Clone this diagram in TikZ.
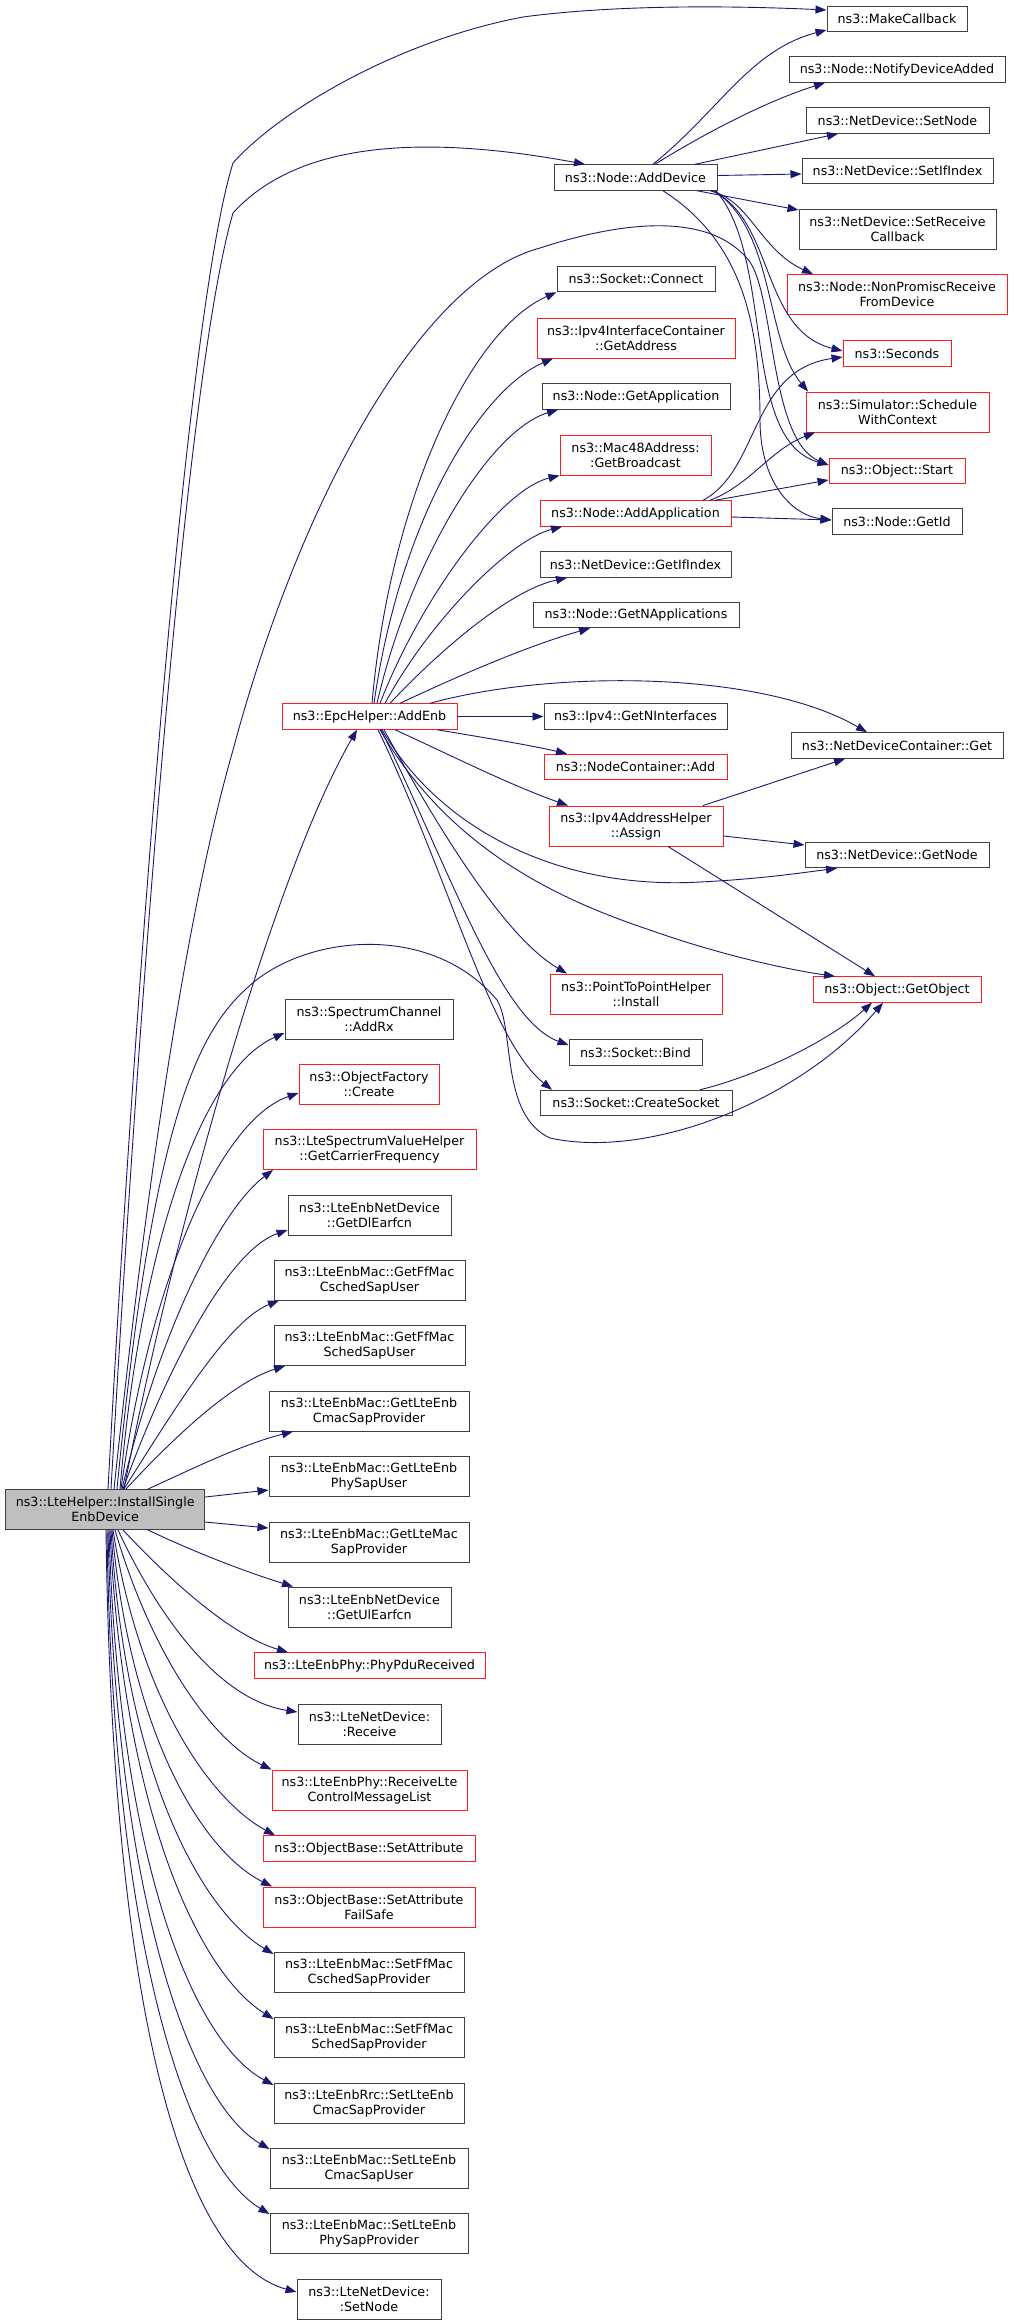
\documentclass[tikz,border=0pt]{standalone}
\usepackage{fontspec}
\setmainfont{DejaVu Sans}
\usetikzlibrary{arrows.meta}
\definecolor{mblue}{RGB}{25,25,112}
\definecolor{dgrey}{RGB}{64,64,64}
\definecolor{lgrey}{RGB}{191,191,191}
\definecolor{bred}{RGB}{255,30,30}
\begin{document}
\begin{tikzpicture}[x=1pt,y=-1pt,
  gbox/.style={draw=dgrey,line width=1pt,inner sep=0pt,align=center,
    font=\fontsize{12.7}{15}\selectfont,minimum height=25.5pt},
  rbox/.style={gbox,draw=bred,line width=0.9pt},
  tall/.style={minimum height=40pt},
  call/.style={draw=mblue,line width=0.9pt,-{Triangle[length=11pt,width=8pt]}}]
\fill[white] (0,0) rectangle (1013,2324);
\useasboundingbox (0,0) rectangle (1013,2324);
% ---------- nodes ----------
\node[gbox,tall,fill=lgrey,minimum width=199pt] (ise) at (105.2,1509.5) {ns3::LteHelper::InstallSingle\\EnbDevice};
\node[gbox,minimum width=140pt] (mk) at (897,19) {ns3::MakeCallback};
\node[gbox,minimum width=163pt] (ad) at (635.5,177.5) {ns3::Node::AddDevice};
\node[gbox,minimum width=216pt] (nda) at (897,69.5) {ns3::Node::NotifyDeviceAdded};
\node[gbox,minimum width=183pt] (sn) at (897.5,120.5) {ns3::NetDevice::SetNode};
\node[gbox,minimum width=191pt] (sif) at (897.5,171) {ns3::NetDevice::SetIfIndex};
\node[gbox,tall,minimum width=197pt] (src) at (897.5,229) {ns3::NetDevice::SetReceive\\Callback};
\node[rbox,tall,minimum width=220pt] (npr) at (897,294.5) {ns3::Node::NonPromiscReceive\\FromDevice};
\node[gbox,minimum width=158pt] (con) at (636,279) {ns3::Socket::Connect};
\node[rbox,tall,minimum width=198pt] (ga) at (636,338) {ns3::Ipv4InterfaceContainer\\::GetAddress};
\node[gbox,minimum width=188pt] (gapp) at (636,396.5) {ns3::Node::GetApplication};
\node[rbox,tall,minimum width=151pt] (gb) at (635.5,455) {ns3::Mac48Address:\\:GetBroadcast};
\node[rbox,minimum width=191pt] (aa) at (635.5,513.5) {ns3::Node::AddApplication};
\node[gbox,minimum width=191pt] (gii) at (635.5,564.5) {ns3::NetDevice::GetIfIndex};
\node[gbox,minimum width=206pt] (gna) at (636,615) {ns3::Node::GetNApplications};
\node[rbox,minimum width=108pt] (sec) at (897,353.5) {ns3::Seconds};
\node[rbox,tall,minimum width=183pt] (swc) at (897.5,412) {ns3::Simulator::Schedule\\WithContext};
\node[rbox,minimum width=136pt] (ost) at (897,471) {ns3::Object::Start};
\node[gbox,minimum width=130pt] (gid) at (897,521.5) {ns3::Node::GetId};
\node[rbox,minimum width=175pt] (epc) at (369.5,716.5) {ns3::EpcHelper::AddEnb};
\node[gbox,minimum width=183pt] (gni) at (635.5,716.5) {ns3::Ipv4::GetNInterfaces};
\node[rbox,minimum width=183pt] (nca) at (635.5,767) {ns3::NodeContainer::Add};
\node[rbox,tall,minimum width=174pt] (asg) at (636,826) {ns3::Ipv4AddressHelper\\::Assign};
\node[gbox,minimum width=212pt] (ndcg) at (897,745.5) {ns3::NetDeviceContainer::Get};
\node[gbox,minimum width=184pt] (gn) at (897,855) {ns3::NetDevice::GetNode};
\node[rbox,tall,minimum width=172pt] (p2p) at (636,994) {ns3::PointToPointHelper\\::Install};
\node[gbox,minimum width=133pt] (bind) at (635.5,1052.5) {ns3::Socket::Bind};
\node[gbox,minimum width=192pt] (cs) at (636,1103) {ns3::Socket::CreateSocket};
\node[rbox,minimum width=168pt] (go) at (897,989.5) {ns3::Object::GetObject};
\node[gbox,tall,minimum width=168pt] (scar) at (369,1019) {ns3::SpectrumChannel\\::AddRx};
\node[rbox,tall,minimum width=140pt] (ofc) at (369,1084) {ns3::ObjectFactory\\::Create};
\node[rbox,tall,minimum width=213pt] (lsv) at (369.5,1149.5) {ns3::LteSpectrumValueHelper\\::GetCarrierFrequency};
\node[gbox,tall,minimum width=163pt] (dle) at (369.5,1215) {ns3::LteEnbNetDevice\\::GetDlEarfcn};
\node[gbox,tall,minimum width=191pt] (gcsu) at (369.5,1280) {ns3::LteEnbMac::GetFfMac\\CschedSapUser};
\node[gbox,tall,minimum width=191pt] (gssu) at (369.5,1345.5) {ns3::LteEnbMac::GetFfMac\\SchedSapUser};
\node[gbox,tall,minimum width=200pt] (gcsp) at (369,1411) {ns3::LteEnbMac::GetLteEnb\\CmacSapProvider};
\node[gbox,tall,minimum width=200pt] (gpsu) at (369,1476) {ns3::LteEnbMac::GetLteEnb\\PhySapUser};
\node[gbox,tall,minimum width=200pt] (gmsp) at (369,1542) {ns3::LteEnbMac::GetLteMac\\SapProvider};
\node[gbox,tall,minimum width=163pt] (ule) at (369.5,1607) {ns3::LteEnbNetDevice\\::GetUlEarfcn};
\node[rbox,minimum width=231pt] (ppr) at (369.5,1665.5) {ns3::LteEnbPhy::PhyPduReceived};
\node[gbox,tall,minimum width=143pt] (rcv) at (369.5,1724) {ns3::LteNetDevice:\\:Receive};
\node[rbox,tall,minimum width=195pt] (rlc) at (369.5,1790) {ns3::LteEnbPhy::ReceiveLte\\ControlMessageList};
\node[rbox,minimum width=212pt] (sa) at (369,1848.5) {ns3::ObjectBase::SetAttribute};
\node[rbox,tall,minimum width=212pt] (saf) at (369,1907) {ns3::ObjectBase::SetAttribute\\FailSafe};
\node[gbox,tall,minimum width=190pt] (scsp) at (369,1972) {ns3::LteEnbMac::SetFfMac\\CschedSapProvider};
\node[gbox,tall,minimum width=190pt] (sssp) at (369,2037) {ns3::LteEnbMac::SetFfMac\\SchedSapProvider};
\node[gbox,tall,minimum width=190pt] (rrc) at (369,2103) {ns3::LteEnbRrc::SetLteEnb\\CmacSapProvider};
\node[gbox,tall,minimum width=198pt] (scsu) at (369,2168) {ns3::LteEnbMac::SetLteEnb\\CmacSapUser};
\node[gbox,tall,minimum width=198pt] (spsp) at (369,2233) {ns3::LteEnbMac::SetLteEnb\\PhySapProvider};
\node[gbox,tall,minimum width=144pt] (snd) at (369,2299) {ns3::LteNetDevice:\\:SetNode};
% ---------- edges from InstallSingleEnbDevice ----------
\draw[call] (ise.north -| 108,0) .. controls (140,900) and (190,300) .. (233,163) .. controls (280,110) and (400,40) .. (523,17) .. controls (620,4) and (740,6) .. (mk.west |- 0,10);
\draw[call] (ise.north -| 111,0) .. controls (145,900) and (190,360) .. (233,213) .. controls (290,150) and (400,130) .. (ad.north -| 585,0);
\draw[call] (ise.north -| 114,0) .. controls (150,1150) and (190,900) .. (233,750) .. controls (300,500) and (420,280) .. (540,248) .. controls (620,222) and (710,210) .. (750,262) .. controls (775,300) and (770,440) .. (ost.west |- 0,465);
\draw[call] (ise.north -| 124,0) .. controls (170,1250) and (270,880) .. (epc.south -| 357,0);
\draw[call] (ise.north -| 117,0) .. controls (150,1150) and (190,1040) .. (245,990) .. controls (300,935) and (430,920) .. (497,1000) .. controls (515,1030) and (500,1115) .. (550,1138) .. controls (650,1160) and (800,1100) .. (go.south -| 883,0);
\draw[call] (ise.north -| 120,0) .. controls (140,1250) and (200,1070) .. (scar.west |- 0,1033);
\draw[call] (ise.north -| 121,0) .. controls (150,1280) and (220,1120) .. (ofc.west |- 0,1093);
\draw[call] (ise.north -| 122,0) .. controls (160,1330) and (220,1210) .. (lsv.south -| 273,0);
\draw[call] (ise.north -| 123,0) .. controls (170,1360) and (230,1250) .. (dle.west |- 0,1230);
\draw[call] (ise.north -| 124,0) .. controls (180,1400) and (230,1320) .. (gcsu.south -| 279,0);
\draw[call] (ise.north -| 126,0) .. controls (190,1420) and (240,1380) .. (gssu.south -| 285,0);
\draw[call] (ise.north -| 148,0) .. controls (190,1470) and (240,1445) .. (gcsp.south -| 293,0);
\draw[call] (ise.east |- 0,1497) -- (gpsu.west |- 0,1490);
\draw[call] (ise.east |- 0,1522) -- (gmsp.west |- 0,1528);
\draw[call] (ise.south -| 148,0) .. controls (190,1550) and (240,1570) .. (ule.north -| 293,0);
\draw[call] (ise.south -| 123,0) .. controls (170,1580) and (230,1635) .. (ppr.north -| 288,0);
\draw[call] (ise.south -| 118,0) .. controls (160,1620) and (220,1700) .. (rcv.west |- 0,1712);
\draw[call] (ise.south -| 115,0) .. controls (150,1650) and (210,1740) .. (rlc.north west);
\draw[call] (ise.south -| 113,0) .. controls (140,1700) and (210,1800) .. (sa.north -| 275,0);
\draw[call] (ise.south -| 112,0) .. controls (130,1730) and (200,1850) .. (saf.north -| 272,0);
\draw[call] (ise.south -| 111,0) .. controls (125,1770) and (200,1910) .. (scsp.west |- 0,1954);
\draw[call] (ise.south -| 110,0) .. controls (122,1800) and (195,1970) .. (sssp.west |- 0,2019);
\draw[call] (ise.south -| 109,0) .. controls (118,1850) and (190,2040) .. (rrc.west |- 0,2085);
\draw[call] (ise.south -| 108,0) .. controls (115,1880) and (185,2100) .. (scsu.west |- 0,2149);
\draw[call] (ise.south -| 107,0) .. controls (112,1920) and (180,2160) .. (spsp.west |- 0,2214);
\draw[call] (ise.south -| 106,0) .. controls (112,2000) and (180,2260) .. (snd.west |- 0,2292);
% ---------- edges from EpcHelper::AddEnb ----------
\draw[call] (epc.north -| 372,0) .. controls (390,500) and (470,330) .. (con.south west);
\draw[call] (epc.north -| 374,0) .. controls (400,520) and (480,390) .. (ga.south -| 553,0);
\draw[call] (epc.north -| 377,0) .. controls (410,560) and (490,430) .. (gapp.south -| 558,0);
\draw[call] (epc.north -| 380,0) .. controls (420,600) and (500,490) .. (gb.south west);
\draw[call] (epc.north -| 385,0) .. controls (430,620) and (510,540) .. (aa.south -| 562,0);
\draw[call] (epc.north -| 390,0) .. controls (440,650) and (510,590) .. (gii.south -| 567,0);
\draw[call] (epc.north -| 400,0) .. controls (460,675) and (530,645) .. (gna.south -| 590,0);
\draw[call] (epc.north -| 430,0) .. controls (550,670) and (760,670) .. (ndcg.north -| 867,0);
\draw[call] (epc.east) -- (gni.west);
\draw[call] (epc.south -| 437,0) .. controls (480,737) and (530,745) .. (nca.north -| 567,0);
\draw[call] (epc.south -| 395,0) .. controls (450,755) and (510,785) .. (asg.north -| 568,0);
\draw[call] (epc.south -| 382,0) .. controls (440,830) and (560,890) .. (700,882) .. controls (760,879) and (800,873) .. (gn.south -| 837,0);
\draw[call] (epc.south -| 380,0) .. controls (450,850) and (560,900) .. (650,930) .. controls (720,955) and (790,970) .. (go.north -| 835,0);
\draw[call] (epc.south -| 384,0) .. controls (450,850) and (510,940) .. (p2p.north -| 567,0);
\draw[call] (epc.south -| 381,0) .. controls (450,870) and (500,1020) .. (bind.west |- 0,1045);
\draw[call] (epc.south -| 378,0) .. controls (450,880) and (490,1040) .. (cs.north -| 552,0);
% ---------- edges from Node::AddDevice ----------
\draw[call] (ad.north -| 653,0) .. controls (720,110) and (750,50) .. (mk.west |- 0,30);
\draw[call] (ad.north -| 655,0) .. controls (710,130) and (770,100) .. (nda.south -| 825,0);
\draw[call] (ad.north -| 695,0) -- (sn.south -| 838,0);
\draw[call] (ad.east |- 0,175.5) -- (sif.west |- 0,174);
\draw[call] (ad.south -| 697,0) -- (src.west |- 0,210);
\draw[call] (ad.south -| 710,0) .. controls (750,200) and (760,250) .. (npr.north -| 813,0);
\draw[call] (ad.south -| 712,0) .. controls (775,220) and (760,330) .. (sec.west |- 0,351);
\draw[call] (ad.south -| 714,0) .. controls (775,230) and (765,340) .. (swc.north -| 808,0);
\draw[call] (ad.south -| 716,0) .. controls (775,260) and (740,440) .. (ost.west |- 0,465);
\draw[call] (ad.south -| 663,0) .. controls (740,240) and (760,320) .. (760,420) .. controls (760,480) and (790,515) .. (gid.west |- 0,520);
% ---------- edges from Node::AddApplication ----------
\draw[call] (aa.north -| 703,0) .. controls (760,470) and (750,370) .. (sec.west |- 0,357);
\draw[call] (aa.north -| 710,0) .. controls (750,485) and (770,450) .. (swc.south -| 815,0);
\draw[call] (aa.north -| 715,0) -- (ost.west |- 0,480);
\draw[call] (aa.east |- 0,517) -- (gid.west |- 0,520);
% ---------- edges from Ipv4AddressHelper::Assign ----------
\draw[call] (asg.north -| 703,0) -- (ndcg.south -| 845,0);
\draw[call] (asg.east |- 0,836) -- (gn.west |- 0,845);
\draw[call] (asg.south -| 668,0) -- (go.north -| 875,0);
% ---------- edge from Socket::CreateSocket ----------
\draw[call] (cs.north -| 700,0) .. controls (760,1075) and (830,1040) .. (go.south -| 872,0);
\end{tikzpicture}
\end{document}
